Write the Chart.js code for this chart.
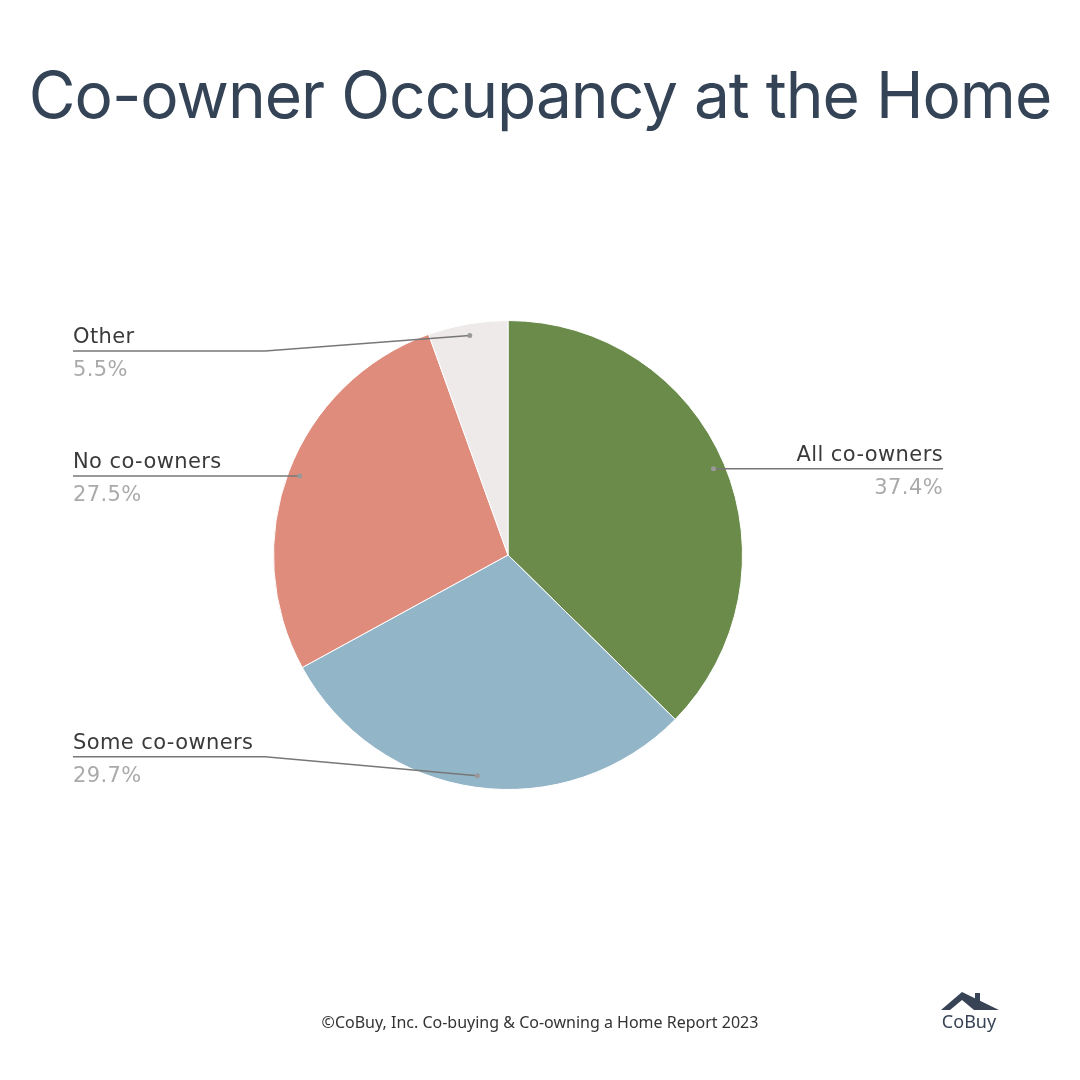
<!DOCTYPE html>
<html>
<head>
<meta charset="utf-8">
<script src="https://cdn.jsdelivr.net/npm/chart.js@4.4.0/dist/chart.umd.min.js"></script>
<style>
  html, body { margin: 0; padding: 0; background: #fff; }
  #wrap { position: relative; width: 1080px; height: 1080px; overflow: hidden; }
  #title { position: absolute; left: 0; top: 56px; width: 1080px; text-align: center;
           font-family: Inter, sans-serif; font-size: 64px; letter-spacing: -1px; color: #344356; font-weight: 400; }
  #chart { position: absolute; left: 0; top: 0; }
  #foot { position: absolute; left: 0; top: 1011px; width: 1080px; text-align: center;
          font-family: "Noto Sans", sans-serif; font-size: 16px; color: #333; }
  #logo { position: absolute; left: 936px; top: 990px; width: 66px; text-align: center; }
  #logo svg { display: block; }
  #logo span { display: block; font-family: "Noto Sans", sans-serif; font-size: 18px; color: #384456; margin-top: -2px; }
</style>
</head>
<body>
<div id="wrap">
  <div id="title">Co-owner Occupancy at the Home</div>
  <canvas id="chart" width="1080" height="1080"></canvas>
  <div id="foot">©CoBuy, Inc. Co-buying &amp; Co-owning a Home Report 2023</div>
  <div id="logo">
    <svg width="66" height="21" viewBox="0 0 66 21">
      <rect x="39" y="3" width="5" height="8" fill="#384456"/>
      <polygon points="5,20 26,2 63,20" fill="#384456"/>
      <polygon points="14,20 26,10 38,20" fill="#ffffff"/>
    </svg>
    <span>CoBuy</span>
  </div>
</div>
<script>
// slices, clockwise from the top
var labels = ['All co-owners', 'Some co-owners', 'No co-owners', 'Other'];
var values = [37.4, 29.7, 27.5, 5.5];
var colors = ['#6a8b4a', '#93b5c8', '#df8c7d', '#eeeaea'];

// leader lines + labels, drawn after the pie
var leaderLabels = {
  id: 'leaderLabels',
  afterDatasetsDraw: function (chart, args, opts) {
    var ctx = chart.ctx;
    var meta = chart.getDatasetMeta(0);
    var data = chart.data.datasets[0].data;
    meta.data.forEach(function (arc, i) {
      var mid = (arc.startAngle + arc.endAngle) / 2;
      var r = arc.outerRadius;
      var ax = arc.x + Math.cos(mid) * r * 0.95;
      var ay = arc.y + Math.sin(mid) * r * 0.95;
      var right = ax > arc.x;
      var ly = Math.min(Math.max(ay, arc.y - r * 0.87), arc.y + r * 0.86);
      var endX = right ? opts.rightX : opts.leftX;
      var elbowX = right ? Math.max(ax, opts.rightX - opts.run) : Math.min(ax, opts.leftX + opts.run);

      ctx.save();
      ctx.strokeStyle = '#777';
      ctx.lineWidth = 1.5;
      ctx.beginPath();
      ctx.moveTo(ax, ay);
      ctx.lineTo(elbowX, ly);
      ctx.lineTo(endX, ly);
      ctx.stroke();
      ctx.fillStyle = '#999';
      ctx.beginPath();
      ctx.arc(ax, ay, 2.5, 0, Math.PI * 2);
      ctx.fill();

      ctx.textAlign = right ? 'right' : 'left';
      ctx.font = '21px "DejaVu Sans"';
      ctx.letterSpacing = '0.4px';
      ctx.fillStyle = '#3a3a3a';
      ctx.textBaseline = 'alphabetic';
      ctx.fillText(chart.data.labels[i], endX, ly - 8);
      ctx.fillStyle = '#aaaaaa';
      ctx.textBaseline = 'top';
      ctx.fillText(data[i].toFixed(1) + '%', endX, ly + 9);
      ctx.restore();
    });
  }
};

new Chart(document.getElementById('chart'), {
  type: 'pie',
  data: {
    labels: labels,
    datasets: [{
      data: values,
      backgroundColor: colors,
      borderColor: '#ffffff',
      borderWidth: 1,
      hoverOffset: 0
    }]
  },
  options: {
    responsive: false,
    animation: false,
    events: [],
    layout: { padding: { left: 273, right: 337, top: 320, bottom: 290 } },
    plugins: {
      legend: { display: false },
      tooltip: { enabled: false },
      leaderLabels: { leftX: 73, rightX: 943, run: 192 }
    }
  },
  plugins: [leaderLabels]
});
</script>
</body>
</html>
